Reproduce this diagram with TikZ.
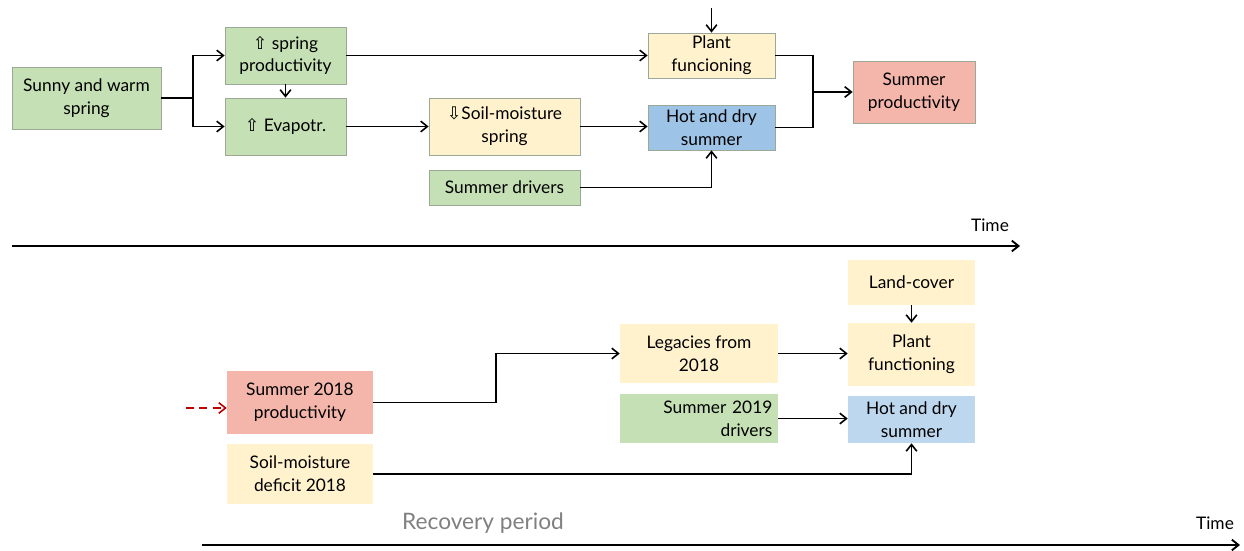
\documentclass[tikz,border=0pt]{standalone}
\usepackage{fontspec}
\setmainfont{Lato}
\newfontfamily\symfont{DejaVu Sans}
\usetikzlibrary{arrows.meta}
\definecolor{cgreen}{HTML}{C5E0B4}
\definecolor{cyellow}{HTML}{FFF2CC}
\definecolor{cblue}{HTML}{9DC3E6}
\definecolor{clblue}{HTML}{BDD7EE}
\definecolor{cred}{HTML}{F4B6AA}
\definecolor{cborder}{HTML}{A9B8A0}
\definecolor{cgraytext}{HTML}{808080}
\definecolor{cdarkred}{HTML}{C00000}
\newcommand\upar{{\symfont\fontsize{13}{15}\selectfont ⇧}}
\newcommand\dnar{{\symfont\fontsize{13}{15}\selectfont ⇩}}
\tikzset{
  box/.style={rectangle, align=center, inner sep=2pt, font=\fontsize{13}{17}\selectfont},
  tbox/.style={box, draw=cborder!70!gray, line width=0.5pt},
  arr/.style={-{Straight Barb[length=5pt,width=8pt]}, line width=1.2pt},
  ln/.style={line width=1.2pt},
  axis/.style={-{Straight Barb[length=5pt,width=8pt]}, line width=1.4pt}
}
\begin{document}
\begin{tikzpicture}[x=0.75pt,y=-0.75pt]
\useasboundingbox (0,0) rectangle (1244,550);
% top diagram
\node[tbox, fill=cgreen, minimum width=111.75pt, minimum height=46.5pt] (sunny) at (86.5,98) {Sunny and warm\\spring};
\node[tbox, fill=cgreen, minimum width=90.75pt, minimum height=42.75pt] (sprodsp) at (285.5,55.5) {\upar{} spring\\productivity};
\node[tbox, fill=cgreen, minimum width=90.75pt, minimum height=42.75pt] (evap) at (285.5,126.5) {\upar{} Evapotr.};
\node[tbox, fill=cyellow, minimum width=113.25pt, minimum height=42.75pt] (soil) at (504.5,126.5) {\dnar{}Soil-moisture\\spring};
\node[tbox, fill=cyellow, minimum width=95.25pt, minimum height=33.75pt] (plant) at (711.5,55.5) {Plant\\funcioning};
\node[tbox, fill=cblue, minimum width=95.25pt, minimum height=33.75pt] (hot) at (711.5,127.5) {Hot and dry\\summer};
\node[tbox, fill=cgreen, minimum width=113.25pt, minimum height=26.25pt] (sdrv) at (504.5,187.5) {Summer drivers};
\node[tbox, fill=cred, minimum width=91.5pt, minimum height=46.5pt] (sprod) at (914,92) {Summer\\productivity};

\coordinate (j1) at (193,98);
\coordinate (ptop) at (711.5,8);
\coordinate (j2) at (813,92);

\draw[ln] (sunny.east) -- (j1);
\draw[arr] (j1) |- (sprodsp.west);
\draw[arr] (j1) |- (evap.west);
\draw[arr] (sprodsp.south) -- (evap.north);
\draw[arr] (sprodsp.east) -- (sprodsp.east -| plant.west);
\draw[arr] (evap.east) -- (soil.west);
\draw[arr] (soil.east) -- (soil.east -| hot.west);
\draw[arr] (sdrv.east) -| (hot.south);
\draw[arr] (ptop) -- (plant.north);
\draw[ln] (plant.east) -| (j2);
\draw[ln] (hot.east) -| (j2);
\draw[arr] (j2) -- (sprod.west);

\coordinate (ax1s) at (12,246);
\coordinate (ax1e) at (1020,246);
\draw[axis] (ax1s) -- (ax1e);
\node[box, anchor=center] (time1) at (990,225) {Time};

% bottom diagram
\node[box, fill=cyellow, minimum width=95.25pt, minimum height=33.75pt] (land) at (911.5,282.5) {Land-cover};
\node[box, fill=cyellow, minimum width=95.25pt, minimum height=47.25pt] (plant2) at (911.5,354.5) {Plant\\functioning};
\node[box, fill=clblue, minimum width=95.25pt, minimum height=35.25pt] (hot2) at (911.5,419.5) {Hot and dry\\summer};
\node[box, fill=cyellow, minimum width=118.5pt, minimum height=44.25pt] (leg) at (699,353.5) {Legacies from\\2018};
\node[box, fill=cgreen, minimum width=118.5pt, minimum height=36.75pt, text width=110pt, align=right, inner xsep=4.25pt] (s2019) at (699,418.5) {Summer 2019\\drivers};
\node[box, fill=cred, minimum width=109.5pt, minimum height=47.25pt] (s2018) at (300,402.5) {Summer 2018\\productivity};
\node[box, fill=cyellow, minimum width=109.5pt, minimum height=45pt] (def) at (300,474) {Soil-moisture\\deficit 2018};

\coordinate (red0) at (186,408);
\coordinate (j3) at (496,402.5);
\draw[arr, dashed, dash pattern=on 6pt off 4pt, draw=cdarkred] (red0) -- (s2018.west |- red0);
\draw[arr] (s2018.east) -- (j3) |- (leg.west);
\draw[arr] (leg.east) -- (leg.east -| plant2.west);
\draw[arr] (s2019.east) -- (s2019.east -| hot2.west);
\draw[arr] (def.east) -| (hot2.south);
\draw[arr] (land.south) -- (plant2.north);

\node[box, text=cgraytext, font=\fontsize{17}{20}\selectfont] (recov) at (483,523) {Recovery period};
\coordinate (ax2s) at (202,545);
\coordinate (ax2e) at (1240,545);
\draw[axis] (ax2s) -- (ax2e);
\node[box] (time2) at (1215,523) {Time};
\end{tikzpicture}
\end{document}
